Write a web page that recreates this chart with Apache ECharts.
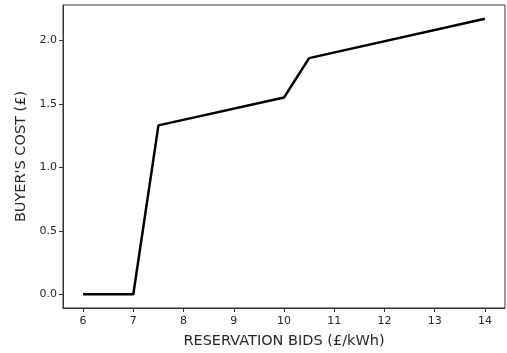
<!DOCTYPE html>
<html>
<head>
<meta charset="utf-8">
<script src="https://cdn.jsdelivr.net/npm/echarts@6/dist/echarts.min.js"></script>
<style>
  html, body { margin: 0; padding: 0; background: #fff; }
  #chart { width: 507px; height: 353px; }
</style>
</head>
<body>
<div id="chart"></div>
<script>
// Buyer's cost as a function of the reservation bid
const bids = [6, 7, 7.5, 10, 10.5, 14];
const costs = [0, 0, 1.33, 1.55, 1.86, 2.17];
const xTicks = [6, 7, 8, 9, 10, 11, 12, 13, 14];
const yTicks = [0, 0.5, 1.0, 1.5, 2.0];

const chart = echarts.init(document.getElementById('chart'), null, { renderer: 'canvas' });
const font = 'DejaVu Sans';
const textColor = '#262626';

chart.setOption({
  animation: false,
  backgroundColor: '#fff',
  grid: {
    left: 63, right: 2, top: 5, bottom: 45,
    outerBoundsMode: 'none',
    containLabel: false,
    show: true, borderColor: '#333', borderWidth: 1, backgroundColor: 'transparent'
  },
  xAxis: {
    type: 'value',
    min: 5.6, max: 14.4,
    name: 'RESERVATION BIDS (£/kWh)',
    nameLocation: 'middle',
    nameGap: 26,
    nameTextStyle: { fontFamily: font, fontSize: 14.5, color: textColor },
    axisLine: { show: true, onZero: false, lineStyle: { color: '#333', width: 1 } },
    axisTick: { show: true, customValues: xTicks, length: 4, lineStyle: { color: '#333' } },
    axisLabel: {
      customValues: xTicks, fontFamily: font, fontSize: 11, color: textColor, margin: 8,
      formatter: v => String(v)
    },
    splitLine: { show: false }
  },
  yAxis: {
    type: 'value',
    min: -0.1085, max: 2.2785,
    name: "BUYER'S COST (£)",
    nameLocation: 'middle',
    nameGap: 33,
    nameTextStyle: { fontFamily: font, fontSize: 14.5, color: textColor },
    axisLine: { show: true, onZero: false, lineStyle: { color: '#333', width: 1 } },
    axisTick: { show: true, customValues: yTicks, length: 4, lineStyle: { color: '#333' } },
    axisLabel: {
      customValues: yTicks, fontFamily: font, fontSize: 11, color: textColor, margin: 6,
      formatter: v => v.toFixed(1)
    },
    splitLine: { show: false }
  },
  series: [{
    type: 'line',
    data: bids.map((b, i) => [b, costs[i]]),
    showSymbol: false,
    lineStyle: { color: '#000', width: 2.5 },
    itemStyle: { color: '#000' }
  }]
});
</script>
</body>
</html>
